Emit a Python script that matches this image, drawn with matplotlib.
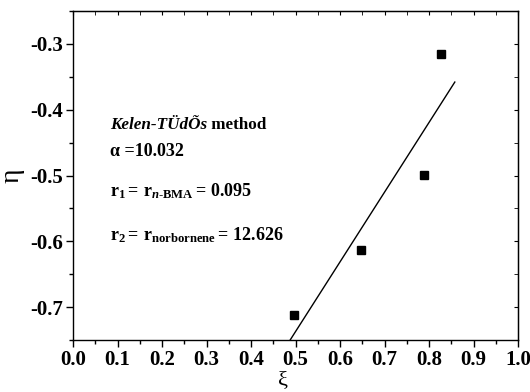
import matplotlib
matplotlib.use("Agg")
import matplotlib.pyplot as plt
from matplotlib.ticker import MultipleLocator

plt.rcParams['font.family'] = ['Liberation Serif', 'DejaVu Serif']
plt.rcParams['font.weight'] = 'bold'
plt.rcParams['mathtext.fontset'] = 'custom'
plt.rcParams['mathtext.rm'] = 'Liberation Serif:bold'
plt.rcParams['mathtext.bf'] = 'Liberation Serif:bold'
plt.rcParams['mathtext.it'] = 'Liberation Serif:italic:bold'

# experimental points
xi = [0.497, 0.647, 0.789, 0.826]
eta = [-0.712, -0.613, -0.499, -0.315]

# fitted line end points
fit_xi = [0.488, 0.858]
fit_eta = [-0.75, -0.358]

fig = plt.figure(figsize=(5.3, 3.92), dpi=100)
ax = fig.add_axes([73 / 530, 1 - 340 / 392, 445 / 530, 329 / 392])

ax.plot(fit_xi, fit_eta, color='black', lw=1.0)
ax.plot(xi, eta, 's', color='black', ms=5.5)

ax.set_xlim(0.0, 1.0)
ax.set_ylim(-0.75, -0.25)
ax.xaxis.set_major_locator(MultipleLocator(0.1))
ax.xaxis.set_minor_locator(MultipleLocator(0.05))
ax.yaxis.set_minor_locator(MultipleLocator(0.05))
ax.set_yticks([-0.7, -0.6, -0.5, -0.4, -0.3])
ax.set_yticklabels(['-0.7', '-0.6', '-0.5', '-0.4', '-0.3'])

ax.tick_params(which='both', direction='out', top=False, right=False, width=1.0)
ax.tick_params(which='major', length=5, labelsize=15, pad=2)
ax.tick_params(which='minor', length=3)
for s in ax.spines.values():
    s.set_linewidth(1.0)

# mirrored ticks on top and right
sec_x = ax.secondary_xaxis('top')
sec_x.xaxis.set_major_locator(MultipleLocator(0.1))
sec_x.xaxis.set_minor_locator(MultipleLocator(0.05))
sec_x.tick_params(which='both', direction='in', labeltop=False, length=3)
sec_y = ax.secondary_yaxis('right')
sec_y.yaxis.set_major_locator(MultipleLocator(0.1))
sec_y.yaxis.set_minor_locator(MultipleLocator(0.05))
sec_y.tick_params(which='both', direction='in', labelright=False, length=3)

ax.set_xlabel('ξ', fontsize=16)
ax.xaxis.set_label_coords(0.472, -0.094)
ax.set_ylabel('η', fontsize=20, labelpad=4)

tx = 0.083
fs = 13
t = ax.text(tx, -0.423, 'Kelen-TÜdÕs', fontsize=12.3, style='italic', va='center')
ax.annotate(' method', xy=(1, 0), xycoords=t, va='bottom', fontsize=12.3)
ax.text(tx, -0.464, 'α =10.032', fontsize=fs, va='center')
ax.text(tx, -0.531, r'$\mathrm{r_1{=}\,r_{\mathit{n}\text{-}BMA}{=}\,0.095}$', fontsize=fs, va='baseline')
ax.text(tx, -0.598, r'$\mathrm{r_2{=}\,r_{norbornene}{=}\,12.626}$', fontsize=fs, va='baseline')

fig.savefig('out.png', dpi=100)
